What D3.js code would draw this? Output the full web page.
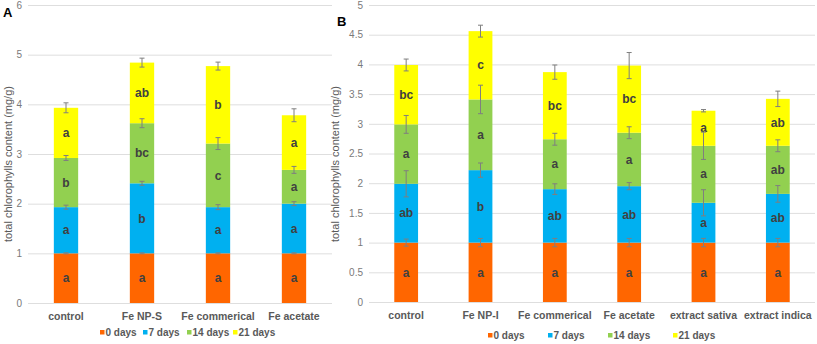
<!DOCTYPE html>
<html>
<head>
<meta charset="utf-8">
<script src="https://cdn.jsdelivr.net/npm/d3@7"></script>
<style>
  body { margin: 0; background: #fff; }
  svg { font-family: "Liberation Sans", Arial, sans-serif; }
</style>
</head>
<body>
<svg id="chart" width="817" height="344"></svg>
<script>
// --- data ---
const seriesNames = ["0 days", "7 days", "14 days", "21 days"];
const seriesColors = ["#ff6600", "#00b0f0", "#92d050", "#ffff00"];

// panel A
const categoriesA = ["control", "Fe NP-S", "Fe commerical", "Fe acetate"];
const valuesA = [          // one row per series, one column per category
  [1.00, 1.00, 1.00, 1.00],
  [0.93, 1.41, 0.93, 1.00],
  [0.99, 1.21, 1.28, 0.68],
  [1.01, 1.22, 1.56, 1.10]
];
const errorsA = [
  [0.01, 0.01, 0.01, 0.01],
  [0.04, 0.04, 0.05, 0.04],
  [0.05, 0.09, 0.12, 0.07],
  [0.10, 0.09, 0.08, 0.13]
];
const lettersA = [
  ["a", "a", "a", "a"],
  ["a", "b", "a", "a"],
  ["b", "bc", "c", "a"],
  ["a", "ab", "b", "a"]
];
const ticksA = [0, 1, 2, 3, 4, 5, 6];

// panel B
const categoriesB = ["control", "Fe NP-I", "Fe commerical", "Fe acetate", "extract sativa", "extract indica"];
const valuesB = [
  [1.00, 1.00, 1.00, 1.00, 1.00, 1.00],
  [0.99, 1.22, 0.90, 0.95, 0.67, 0.82],
  [1.00, 1.19, 0.84, 0.90, 0.96, 0.81],
  [1.00, 1.15, 1.13, 1.13, 0.59, 0.79]
];
const errorsB = [
  [0.06, 0.07, 0.07, 0.07, 0.07, 0.07],
  [0.22, 0.12, 0.09, 0.06, 0.22, 0.14],
  [0.15, 0.24, 0.10, 0.10, 0.23, 0.10],
  [0.10, 0.10, 0.12, 0.22, 0.02, 0.13]
];
const lettersB = [
  ["a", "a", "a", "a", "a", "a"],
  ["ab", "b", "ab", "ab", "a", "ab"],
  ["a", "a", "a", "a", "a", "ab"],
  ["bc", "c", "bc", "bc", "a", "ab"]
];
const ticksB = [0, 0.5, 1, 1.5, 2, 2.5, 3, 3.5, 4, 4.5, 5];

const svg = d3.select("#chart");
const textColor = "#595959";

function drawPanel(p) {
  const g = svg.append("g");

  const x = d3.scaleBand()
      .domain(p.categories)
      .range([p.left, p.right])
      .paddingInner(0.68)
      .paddingOuter(0.34);

  const y = d3.scaleLinear()
      .domain([0, p.ticks[p.ticks.length - 1]])
      .range([p.bottom, p.top]);

  // gridlines + tick labels
  const yAxis = g.append("g")
      .attr("transform", `translate(${p.left},0)`)
      .call(d3.axisLeft(y).tickValues(p.ticks).tickSize(-(p.right - p.left)).tickPadding(6)
        .tickFormat(d3.format("")));
  yAxis.select(".domain").remove();
  yAxis.selectAll(".tick line").attr("stroke", "#dedede");
  yAxis.selectAll(".tick text")
      .attr("fill", "#7a7a7a")
      .style("font-size", "10px")
      .style("font-family", "Liberation Sans, Arial, sans-serif");

  // stacked segments
  const stacks = p.categories.map((c, ci) => {
    let acc = 0;
    return p.values.map((row, si) => {
      const seg = {cat: c, series: si, y0: acc, y1: acc + row[ci],
                   err: p.errors[si][ci], letter: p.letters[si][ci]};
      acc += row[ci];
      return seg;
    });
  }).flat();

  g.selectAll("rect.seg")
    .data(stacks)
    .join("rect")
      .attr("class", "seg")
      .attr("x", d => x(d.cat))
      .attr("width", x.bandwidth())
      .attr("y", d => y(d.y1))
      .attr("height", d => y(d.y0) - y(d.y1))
      .attr("fill", d => seriesColors[d.series]);

  // letters
  g.selectAll("text.letter")
    .data(stacks)
    .join("text")
      .attr("class", "letter")
      .attr("x", d => x(d.cat) + x.bandwidth() / 2)
      .attr("y", d => y((d.y0 + d.y1) / 2))
      .attr("dy", "0.35em")
      .attr("text-anchor", "middle")
      .attr("fill", "#404040")
      .style("font-size", "12px")
      .style("font-weight", "bold")
      .text(d => d.letter);

  // error bars
  const eb = g.selectAll("g.err")
    .data(stacks)
    .join("g")
      .attr("class", "err")
      .attr("stroke", "#7f7f7f")
      .attr("stroke-width", 1);
  const cx = d => x(d.cat) + x.bandwidth() / 2;
  eb.append("line")
      .attr("x1", cx).attr("x2", cx)
      .attr("y1", d => y(d.y1 - d.err)).attr("y2", d => y(d.y1 + d.err));
  eb.append("line")
      .attr("x1", d => cx(d) - 2.5).attr("x2", d => cx(d) + 2.5)
      .attr("y1", d => y(d.y1 + d.err)).attr("y2", d => y(d.y1 + d.err));
  eb.append("line")
      .attr("x1", d => cx(d) - 2.5).attr("x2", d => cx(d) + 2.5)
      .attr("y1", d => y(d.y1 - d.err)).attr("y2", d => y(d.y1 - d.err));

  // category labels
  g.selectAll("text.cat")
    .data(p.categories)
    .join("text")
      .attr("class", "cat")
      .attr("x", d => x(d) + x.bandwidth() / 2)
      .attr("y", p.bottom + 17)
      .attr("text-anchor", "middle")
      .attr("fill", textColor)
      .style("font-size", "10.5px")
      .style("font-weight", "bold")
      .text(d => d);

  // y axis title
  g.append("text")
      .attr("transform", `translate(${p.titleX},${p.titleY}) rotate(-90)`)
      .attr("text-anchor", "middle")
      .attr("fill", textColor)
      .style("font-size", "11px")
      .text("total chlorophylls content (mg/g)");

  // panel letter
  g.append("text")
      .attr("x", p.tagX).attr("y", p.tagY)
      .attr("fill", "#000")
      .style("font-size", "13px")
      .style("font-weight", "bold")
      .text(p.tag);

  // legend
  const leg = g.selectAll("g.leg")
    .data(seriesNames)
    .join("g")
      .attr("class", "leg")
      .attr("transform", (d, i) => `translate(${p.legendX[i]},${p.legendY})`);
  leg.append("rect")
      .attr("x", 0).attr("y", -3)
      .attr("width", 4.5).attr("height", 4.5)
      .attr("fill", (d, i) => seriesColors[i]);
  leg.append("text")
      .attr("x", 5.5).attr("y", 0)
      .attr("dy", "0.33em")
      .attr("fill", textColor)
      .style("font-size", "10px")
      .style("font-weight", "bold")
      .text(d => d);
}

drawPanel({
  tag: "A", tagX: 3, tagY: 17,
  categories: categoriesA, values: valuesA, errors: errorsA, letters: lettersA, ticks: ticksA,
  left: 28, right: 332, top: 5, bottom: 303,
  titleX: 12, titleY: 164,
  legendX: [100, 143, 187, 233], legendY: 333
});

drawPanel({
  tag: "B", tagX: 337, tagY: 26,
  categories: categoriesB, values: valuesB, errors: errorsB, letters: lettersB, ticks: ticksB,
  left: 369, right: 815, top: 5, bottom: 302,
  titleX: 339, titleY: 164,
  legendX: [488, 548, 608, 673], legendY: 336
});
</script>
</body>
</html>
